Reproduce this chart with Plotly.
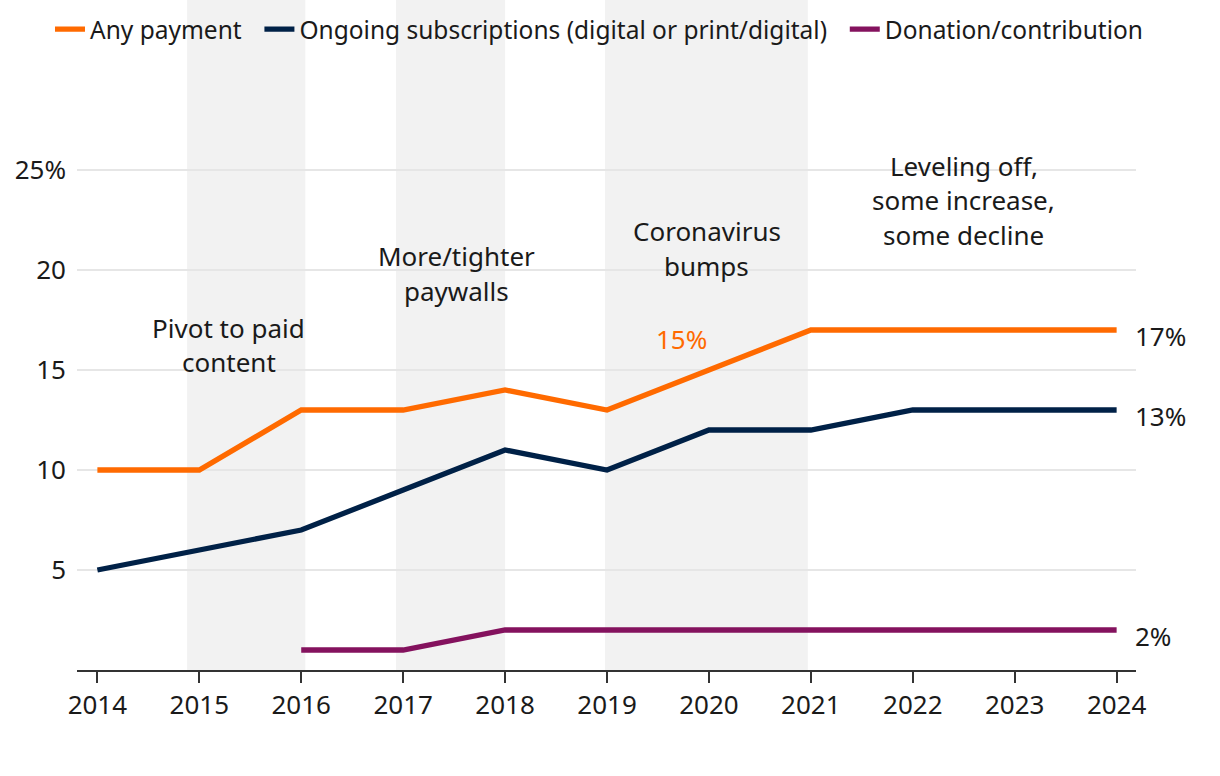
import plotly.graph_objects as go

years = [2014, 2015, 2016, 2017, 2018, 2019, 2020, 2021, 2022, 2023, 2024]
any_payment = [10, 10, 13, 13, 14, 13, 15, 17, 17, 17, 17]
subscriptions = [5, 6, 7, 9, 11, 10, 12, 12, 13, 13, 13]
donation_years = [2016, 2017, 2018, 2019, 2020, 2021, 2022, 2023, 2024]
donation = [1, 1, 2, 2, 2, 2, 2, 2, 2]

series_names = ["Any payment", "Ongoing subscriptions (digital or print/digital)",
                "Donation/contribution"]

y_ticks = [5, 10, 15, 20, 25]
y_tick_labels = ["5", "10", "15", "20", "25%"]

periods = [(2014.88, 2016.04), (2016.93, 2018.0), (2018.98, 2020.97)]
period_labels = [
    (2015.29, [17.0, 15.3], ["Pivot to paid", "content"]),
    (2017.52, [20.6, 18.85], ["More/tighter", "paywalls"]),
    (2019.98, [21.85, 20.1], ["Coronavirus", "bumps"]),
    (2022.5, [25.1, 23.4, 21.65], ["Leveling off,", "some increase,", "some decline"]),
]

ORANGE = "#FF6A00"
NAVY = "#002147"
PURPLE = "#84125E"
FONT = "Noto Sans"
TXT = "#1a1a1a"
FS = 26
PAD = "\u00a0\u00a0"

fig = go.Figure()
for x0, x1 in periods:
    fig.add_vrect(x0=x0, x1=x1, y0=0, y1=30, yref="y", fillcolor="#F2F2F2",
                  line_width=0, layer="below")

fig.add_trace(go.Scatter(x=years, y=any_payment, mode="lines", name=series_names[0] + PAD,
                         line=dict(color=ORANGE, width=5.3)))
fig.add_trace(go.Scatter(x=years, y=subscriptions, mode="lines",
                         name=series_names[1] + PAD,
                         line=dict(color=NAVY, width=5.3)))
fig.add_trace(go.Scatter(x=donation_years, y=donation, mode="lines",
                         name=series_names[2],
                         line=dict(color=PURPLE, width=5.3)))

for xc, ys, lines in period_labels:
    for yy, t in zip(ys, lines):
        fig.add_annotation(x=xc, y=yy, text=t, showarrow=False, xanchor="center",
                           yanchor="middle", yshift=2,
                           font=dict(size=FS, color=TXT, family=FONT))

fig.add_annotation(x=2019.73, y=16.45, text="15%", showarrow=False, yshift=2,
                   font=dict(size=FS, color=ORANGE, family=FONT))

for val in [any_payment[-1], subscriptions[-1], donation[-1]]:
    fig.add_annotation(x=2024.16, y=val, text=f"{val}%", showarrow=False,
                       xanchor="left", yanchor="middle", yshift=-6,
                       font=dict(size=FS, color=TXT, family=FONT))

fig.update_layout(
    width=1220, height=776,
    margin=dict(l=77, r=84, t=70, b=106, autoexpand=False),
    paper_bgcolor="white", plot_bgcolor="white",
    font=dict(family=FONT, size=FS, color=TXT),
    showlegend=True,
    legend=dict(orientation="h", x=-0.0255, xanchor="left", y=1.068, yanchor="middle",
                font=dict(size=24.5, color=TXT, family=FONT), bgcolor="rgba(0,0,0,0)",
                itemwidth=30, tracegroupgap=0),
    xaxis=dict(range=[2013.8, 2024.19], tickmode="array", tickvals=years,
               ticktext=[str(y) for y in years], showgrid=False, zeroline=False,
               showline=True, linecolor="#333333", linewidth=2,
               ticks="outside", ticklen=11, tickwidth=2, tickcolor="#333333",
               tickfont=dict(size=FS, color=TXT, family=FONT)),
    yaxis=dict(range=[0, 30], tickmode="array", tickvals=y_ticks, ticktext=y_tick_labels,
               showgrid=True, gridcolor="#E6E6E6", gridwidth=2, zeroline=False,
               showline=False, ticks="", ticklabelstandoff=10,
               tickfont=dict(size=FS, color=TXT, family=FONT)),
)

fig.write_html("out.html", config={"displayModeBar": False},
               post_script="document.body.style.margin='0';")
